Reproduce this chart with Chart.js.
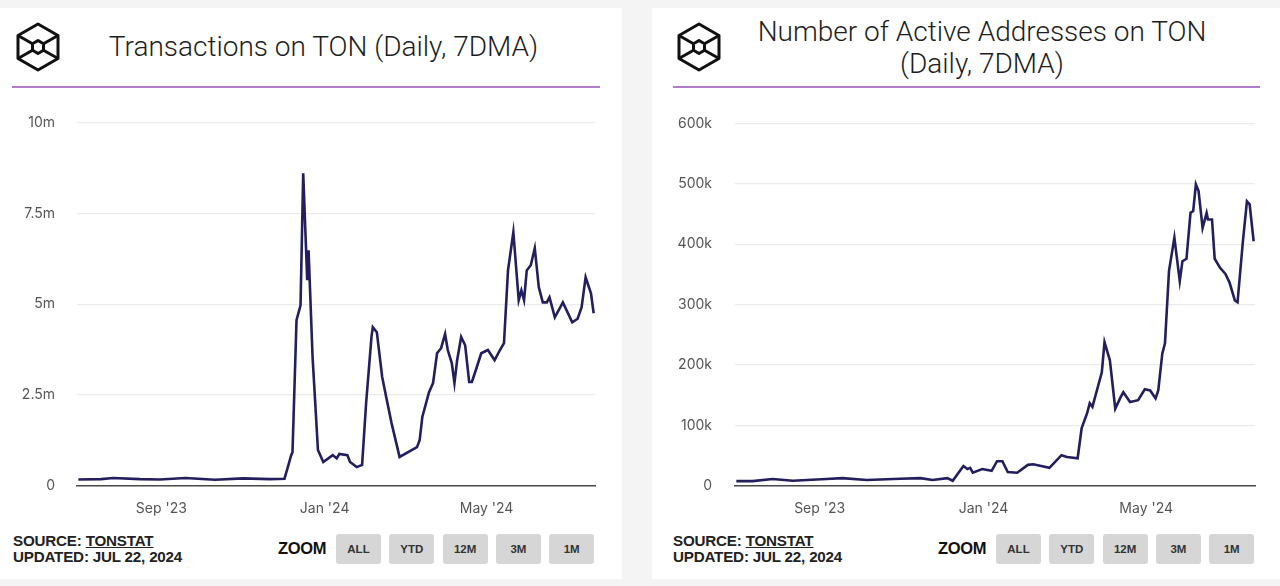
<!DOCTYPE html>
<html>
<head>
<meta charset="utf-8">
<script src="https://cdn.jsdelivr.net/npm/chart.js@4"></script>
<style>
  body { margin: 0; width: 1280px; height: 586px; background: #f4f4f4; position: relative; overflow: hidden; font-family: Roboto, sans-serif; }
  .panel { position: absolute; top: 8px; height: 571px; background: #fff; }
  .logo { position: absolute; top: 13px; width: 52px; height: 52px; }
  .title { position: absolute; font-family: Roboto, sans-serif; font-weight: 300; font-size: 28px; color: #1e1e1e; text-align: center; line-height: 32px; }
  .rule { position: absolute; top: 78px; height: 1.5px; background: #b07ccb; }
  .chartBox { position: absolute; top: 84px; height: 434px; }
  .source { position: absolute; top: 525px; font-family: "Liberation Sans", Arial, sans-serif; font-weight: bold; font-size: 15.2px; line-height: 16px; color: #222; letter-spacing: -0.2px; }
  .source u { text-decoration-thickness: 1px; }
  .zoom { position: absolute; top: 531px; font-family: "Liberation Sans", Arial, sans-serif; font-weight: bold; font-size: 16.5px; color: #111; letter-spacing: -0.3px; }
  .btn { position: absolute; top: 526px; width: 45px; height: 30px; background: #d6d6d6; border-radius: 3px; font-family: "Liberation Sans", Arial, sans-serif; font-weight: bold; font-size: 11.5px; color: #333; text-align: center; line-height: 31px; }
</style>
</head>
<body>
<div class="panel" id="p1" style="left:0; width:622px;"></div>
<div class="panel" id="p2" style="left:652px; width:628px;"></div>

<script>
// chart values
const txDates = ['2023-07-01','2023-07-18','2023-07-27','2023-08-16','2023-08-31','2023-09-19','2023-10-11','2023-11-01','2023-11-21','2023-12-02',
  '2023-12-05','2023-12-07','2023-12-08','2023-12-11','2023-12-14','2023-12-16','2023-12-19','2023-12-20','2023-12-23','2023-12-25',
  '2023-12-27','2023-12-31','2024-01-07','2024-01-10','2024-01-12','2024-01-18','2024-01-20','2024-01-25','2024-01-29','2024-02-01',
  '2024-02-05','2024-02-06','2024-02-09','2024-02-13','2024-02-16','2024-02-20','2024-02-26','2024-03-10','2024-03-12','2024-03-14',
  '2024-03-19','2024-03-22','2024-03-25','2024-03-28','2024-03-31','2024-04-02','2024-04-05','2024-04-07','2024-04-09','2024-04-12',
  '2024-04-15','2024-04-18','2024-04-20','2024-04-23','2024-04-27','2024-05-02','2024-05-07','2024-05-11','2024-05-14','2024-05-17',
  '2024-05-21','2024-05-25','2024-05-27','2024-05-29','2024-05-31','2024-06-03','2024-06-06','2024-06-09','2024-06-12','2024-06-15',
  '2024-06-17','2024-06-21','2024-06-27','2024-07-04','2024-07-08','2024-07-11','2024-07-14','2024-07-18','2024-07-20'];
const txValues = [0.18,0.19,0.22,0.19,0.18,0.22,0.17,0.21,0.19,0.2,
  0.58,0.85,0.93,4.56,4.97,8.6,5.66,6.48,3.54,2.28,
  0.99,0.66,0.85,0.76,0.88,0.85,0.66,0.52,0.58,2.28,
  4.1,4.37,4.23,3.0,2.45,1.73,0.8,1.07,1.26,1.9,
  2.58,2.83,3.65,3.79,4.18,3.74,3.38,2.83,3.46,4.1,
  3.87,2.86,2.86,3.19,3.65,3.74,3.46,3.74,3.93,5.93,
  6.98,5.11,5.38,5.11,5.93,6.07,6.54,5.47,5.05,5.05,
  5.19,4.64,5.05,4.5,4.6,4.92,5.74,5.3,4.75];

const addrDates = ['2023-07-01','2023-07-13','2023-07-28','2023-08-12','2023-09-06','2023-09-18','2023-10-06','2023-10-31','2023-11-15','2023-11-24',
  '2023-12-05','2023-12-09','2023-12-17','2023-12-20','2023-12-22','2023-12-24','2023-12-31','2024-01-07','2024-01-11','2024-01-15',
  '2024-01-19','2024-01-26','2024-02-03','2024-02-07','2024-02-19','2024-02-28','2024-03-03','2024-03-11','2024-03-14','2024-03-18',
  '2024-03-20','2024-03-22','2024-03-29','2024-03-31','2024-04-04','2024-04-08','2024-04-12','2024-04-14','2024-04-19','2024-04-25',
  '2024-04-30','2024-05-04','2024-05-08','2024-05-10','2024-05-13','2024-05-15','2024-05-18','2024-05-22','2024-05-26','2024-05-28',
  '2024-05-31','2024-06-03','2024-06-05','2024-06-07','2024-06-09','2024-06-12','2024-06-15','2024-06-16','2024-06-19','2024-06-21',
  '2024-06-25','2024-06-29','2024-07-02','2024-07-06','2024-07-08','2024-07-12','2024-07-15','2024-07-17','2024-07-20'];
const addrValues = [8,8,11.5,8.7,11.5,13,10,12,13,10,
  13,8.7,33,28,30,22,28,25,41,41,
  23,22,35,36,30,51,48,46,96,120,
  137,131,188,238,208,128,147,155,139,142,
  160,158,145,158,219,236,356,411,339,372,
  376,452,455,499,488,427,452,441,441,376,
  361,351,337,307,304,405,471,466,405];

const xTickDates = ['2023-09-01','2024-01-01','2024-05-01'];
const xTickLabels = ["Sep '23", "Jan '24", "May '24"];
const txTickLabels = ['0','2.5m','5m','7.5m','10m'];
const addrTickLabels = ['0','100k','200k','300k','400k','500k','600k'];

const BASE = Date.UTC(2023, 8, 1);
function day(s) {
  const [y, m, d] = s.split('-').map(Number);
  return (Date.UTC(y, m - 1, d) - BASE) / 86400000;
}

function cubeLogo(left) {
  return `<svg class="logo" style="left:${left}px" viewBox="0 0 52 52">
    <g fill="none" stroke="#111" stroke-width="3" stroke-linejoin="round">
      <polygon points="26,3 46,14.5 46,37.5 26,49 6,37.5 6,14.5"/>
      <polygon points="26,19.5 31.5,22.75 31.5,29.25 26,32.5 20.5,29.25 20.5,22.75"/>
      <line x1="6" y1="14.5" x2="20.5" y2="22.75"/>
      <line x1="46" y1="14.5" x2="31.5" y2="22.75"/>
      <line x1="6" y1="37.5" x2="20.5" y2="29.25"/>
      <line x1="46" y1="37.5" x2="31.5" y2="29.25"/>
    </g></svg>`;
}

function buildPanel(el, opts) {
  let html = cubeLogo(opts.logoX);
  html += `<div class="title" style="left:${opts.titleX}px; top:${opts.titleY}px; width:${opts.titleW}px;">${opts.title}</div>`;
  html += `<div class="rule" style="left:${opts.ruleX}px; width:${opts.ruleW}px;"></div>`;
  html += `<div class="chartBox" style="left:0; width:${opts.boxW}px;"><canvas id="${opts.canvasId}"></canvas></div>`;
  html += `<div class="source" style="left:${opts.srcX}px;">SOURCE: <u>TONSTAT</u><br>UPDATED: JUL 22, 2024</div>`;
  html += `<div class="zoom" style="left:${opts.zoomX}px;">ZOOM</div>`;
  ['ALL', 'YTD', '12M', '3M', '1M'].forEach((b, i) => {
    html += `<div class="btn" style="left:${opts.btnX + i * 53.3}px;">${b}</div>`;
  });
  el.innerHTML = html;
}

buildPanel(document.getElementById('p1'), {
  logoX: 12, titleX: 60, titleY: 23, titleW: 527, title: 'Transactions on TON (Daily, 7DMA)',
  ruleX: 12, ruleW: 588, boxW: 610, canvasId: 'txChart', srcX: 13, zoomX: 278, btnX: 336
});
buildPanel(document.getElementById('p2'), {
  logoX: 21, titleX: 60, titleY: 8, titleW: 540, title: 'Number of Active Addresses on TON<br>(Daily, 7DMA)',
  ruleX: 21, ruleW: 587, boxW: 615, canvasId: 'addrChart', srcX: 21, zoomX: 286, btnX: 344
});

function drawLine(canvasId, dates, values, yMax, yStep, yLabels, axisWidth, labelPad, padRight) {
  const ctx = document.getElementById(canvasId);
  if (!ctx) return;
  new Chart(ctx, {
    type: 'line',
    data: {
      datasets: [{
        data: dates.map((d, i) => ({ x: day(d), y: values[i] })),
        borderColor: '#231f5e',
        borderWidth: 2.6,
        pointRadius: 0,
        tension: 0,
        fill: false
      }]
    },
    options: {
      responsive: true,
      maintainAspectRatio: false,
      animation: false,
      layout: { padding: { top: 5, right: padRight, left: 0, bottom: 0 } },
      plugins: { legend: { display: false }, tooltip: { enabled: false } },
      scales: {
        x: {
          type: 'linear',
          min: day('2023-06-30'),
          max: day('2024-07-21'),
          afterBuildTicks: scale => { scale.ticks = xTickDates.map(d => ({ value: day(d) })); },
          afterFit: scale => { scale.height = 40; },
          ticks: {
            padding: 6,
            color: '#555',
            font: { family: 'Inter', size: 14 },
            maxRotation: 0,
            autoSkip: false,
            callback: v => xTickLabels[xTickDates.findIndex(d => day(d) === v)]
          },
          grid: { display: false },
          border: { color: '#4a4a4a', width: 1.6 }
        },
        y: {
          min: 0,
          max: yMax,
          afterBuildTicks: scale => { scale.ticks = yLabels.map((l, i) => ({ value: i * yStep })); },
          afterFit: scale => { scale.width = axisWidth; },
          ticks: {
            padding: labelPad,
            color: '#555',
            font: { family: 'Inter', size: 14 },
            callback: (v, i) => yLabels[i]
          },
          grid: { color: '#ebebeb', lineWidth: 1.3, drawTicks: false },
          border: { display: false }
        }
      }
    }
  });
}

drawLine('txChart', txDates, txValues, 10, 2.5, txTickLabels, 77, 22, 15);
drawLine('addrChart', addrDates, addrValues, 600, 100, addrTickLabels, 83, 23, 12);
</script>
</body>
</html>
